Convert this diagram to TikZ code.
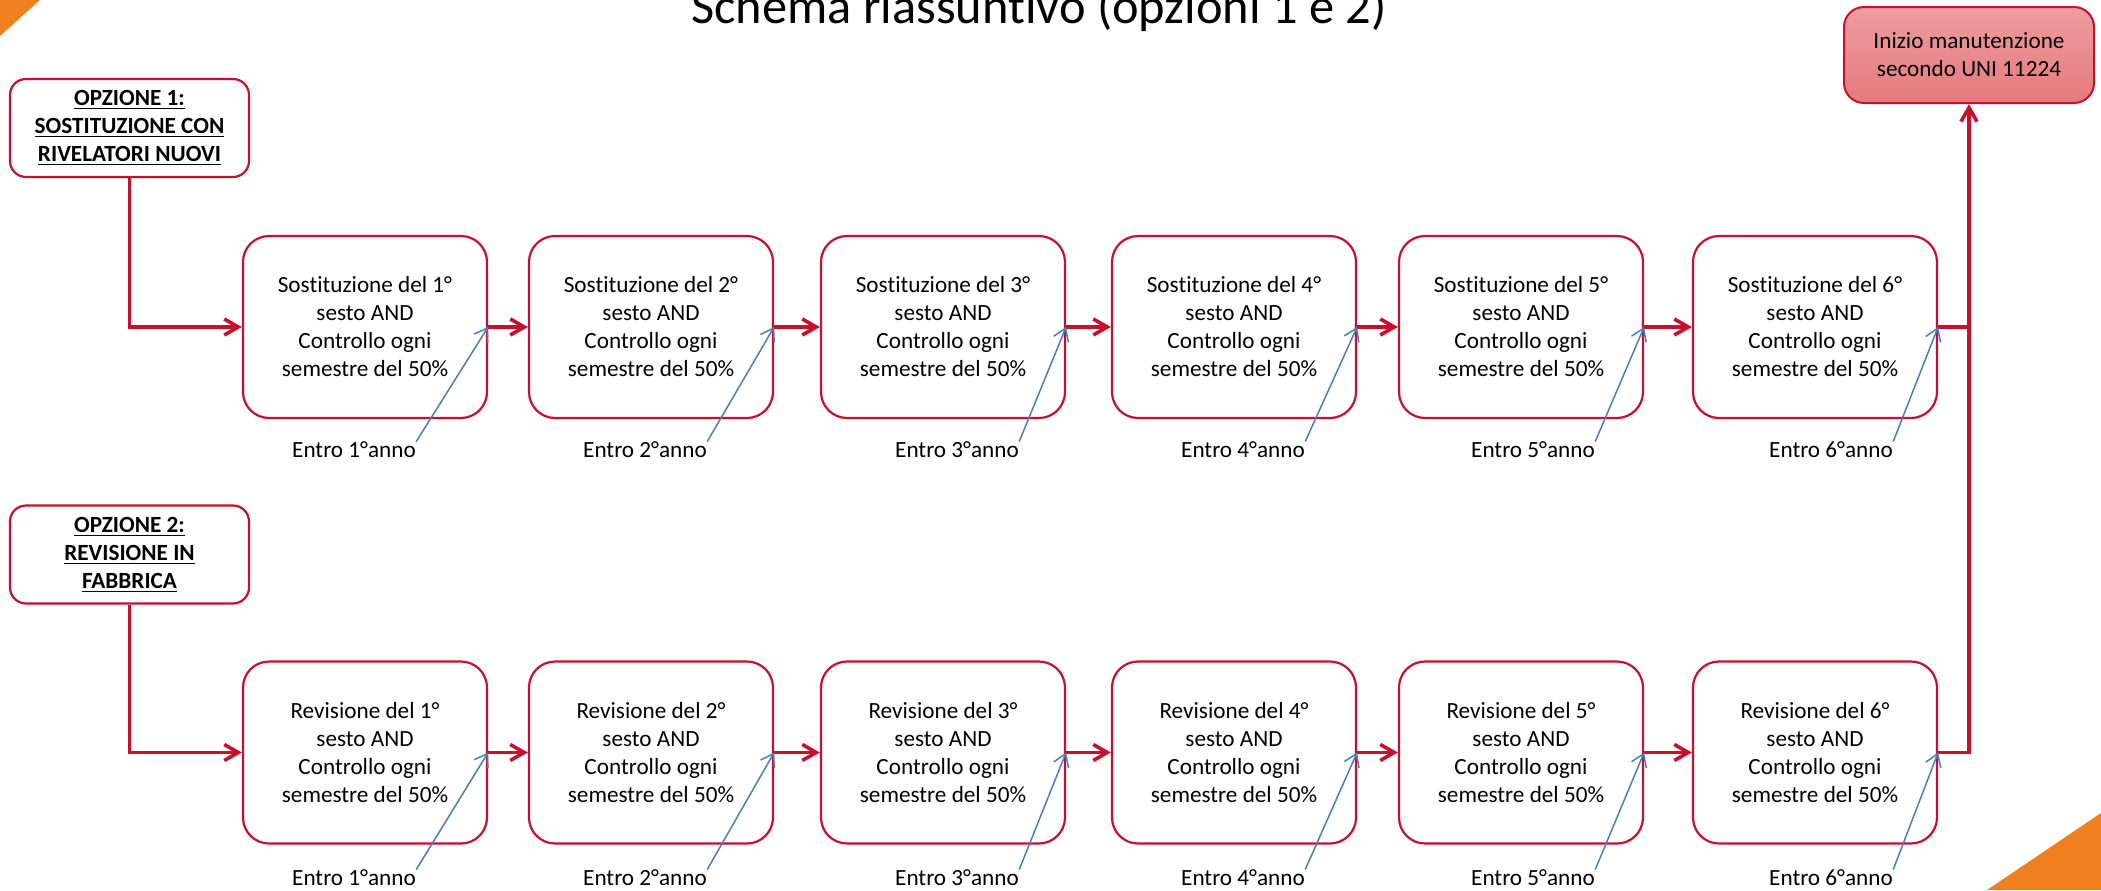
\documentclass[tikz,border=0pt]{standalone}
\usepackage{fontspec}
\setmainfont{Carlito}[Ligatures=NoCommon]
\usetikzlibrary{arrows.meta,calc}
\definecolor{cred}{RGB}{200,16,46}
\definecolor{cblue}{RGB}{74,126,187}
\definecolor{corange}{RGB}{240,127,30}
\definecolor{ctop}{RGB}{238,157,159}
\definecolor{cbot}{RGB}{228,122,125}
\begin{document}
\begin{tikzpicture}[x=0.5pt,y=-0.5pt,
  procbox/.style={draw=cred, line width=1.1pt, rounded corners=13pt, minimum width=122pt, minimum height=91pt, inner sep=0pt, align=center, font=\fontsize{11.6}{14}\selectfont},
  optbox/.style={draw=cred, line width=1.1pt, rounded corners=8pt, minimum width=119.5pt, minimum height=49pt, inner sep=0pt, align=center, font=\fontsize{11.6}{14}\selectfont\bfseries},
  endbox/.style={draw=cred, line width=1pt, rounded corners=10pt, top color=ctop, bottom color=cbot, minimum width=125pt, minimum height=48pt, inner sep=0pt, align=center, font=\fontsize{11.6}{14}\selectfont},
  lab/.style={inner sep=0pt, font=\fontsize{11.6}{14}\selectfont},
  redarrow/.style={draw=cred, line width=1.8pt, -{Straight Barb[length=7pt,width=8pt]}},
  redline/.style={draw=cred, line width=1.8pt},
  bluearrow/.style={draw=cblue, line width=0.75pt, -{Straight Barb[length=6pt,width=8pt]}}]
\useasboundingbox (0,0) rectangle (2101,890);
\clip (0,0) rectangle (2101,890);
\fill[corange] (0,0) -- (40,0) -- (0,36) -- cycle;
\fill[corange] (2101,813) -- (2101,890) -- (1987,890) -- cycle;
\node[anchor=base, inner sep=0pt, font=\fontsize{25.2}{30}\selectfont] (title) at (1039,23) {Schema riassuntivo (opzioni 1 e 2)};

\node[optbox] (o1) at (129.5,128) {\underline{OPZIONE 1:}\\\underline{SOSTITUZIONE CON}\\\underline{RIVELATORI NUOVI}};
\node[optbox] (o2) at (129.5,554.5) {\underline{OPZIONE 2:}\\\underline{REVISIONE IN}\\\underline{FABBRICA}};
\node[endbox] (fin) at (1969,55) {Inizio manutenzione\\secondo UNI 11224};

\foreach \i/\x/\lx in {1/365/354, 2/651/645, 3/943/957, 4/1234/1243, 5/1521/1533, 6/1815/1831} {
  \node[procbox] (s\i) at (\x,327) {Sostituzione del \i°\\sesto AND\\Controllo ogni\\semestre del 50\%};
  \node[lab] (ls\i) at (\lx,450) {Entro \i°anno};
  \node[procbox] (r\i) at (\x,752.5) {Revisione del \i°\\sesto AND\\Controllo ogni\\semestre del 50\%};
  \node[lab] (lr\i) at (\lx,878) {Entro \i°anno};
}
\foreach \i/\j in {1/2,2/3,3/4,4/5,5/6} {
  \draw[redarrow] (s\i.east) -- (s\j.west);
  \draw[redarrow] (r\i.east) -- (r\j.west);
}
\draw[redarrow] (o1.south) |- (s1.west);
\draw[redarrow] (o2.south) |- (r1.west);
\draw[redarrow] (r6.east) -| (fin.south);
\draw[redline] (s6.east) -- (s6.east -| fin.south);
\foreach \i in {1,...,6} {
  \draw[bluearrow] (ls\i.north east) -- (s\i.east);
  \draw[bluearrow] (lr\i.north east) -- (r\i.east);
}
\end{tikzpicture}
\end{document}
